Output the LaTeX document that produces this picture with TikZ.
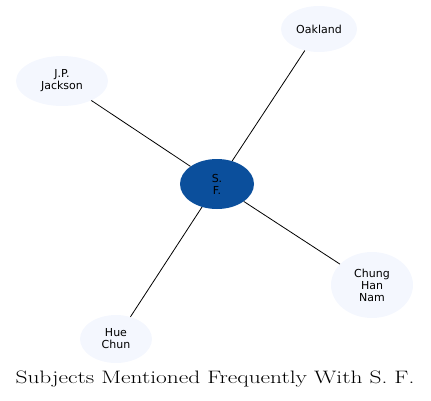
\documentclass[tikz,border=0pt]{standalone}
\usepackage{fontspec}
\newfontfamily\labelfont{DejaVu Sans}
\usetikzlibrary{shapes.geometric}
\definecolor{hubblue}{HTML}{0B4F9C}
\definecolor{paleblue}{HTML}{F4F7FE}
\tikzset{gbox/.style={
    ellipse,
    inner sep=0pt,
    align=center,
    font=\labelfont\fontsize{11}{12}\selectfont
  },
  subjbox/.style={gbox,fill=paleblue},
  hubbox/.style={gbox,fill=hubblue},
  link/.style={draw=black,line width=0.8pt}
}
\begin{document}
\begin{tikzpicture}[x=1pt,y=-1pt]
  \useasboundingbox (0,0) rectangle (431,400);
  \node [hubbox,minimum width=74pt,minimum height=50pt] (sf) at (217,184) {S.\\F.};
  \node [subjbox,minimum width=76pt,minimum height=46pt] (oakland) at (319,29) {Oakland};
  \node [subjbox,minimum width=92pt,minimum height=50pt] (jackson) at (62,81) {J.P.\\Jackson};
  \node [subjbox,minimum width=82pt,minimum height=66pt] (chung) at (372,285) {Chung\\Han\\Nam};
  \node [subjbox,minimum width=72pt,minimum height=48pt] (hue) at (116,339) {Hue\\Chun};
  \draw[link] (sf) -- (oakland);
  \draw[link] (sf) -- (jackson);
  \draw[link] (sf) -- (chung);
  \draw[link] (sf) -- (hue);
  \node [font=\fontsize{18}{20}\selectfont] (title) at (215,379) {\scalebox{1.3}[1]{Subjects Mentioned Frequently With S. F.}};
\end{tikzpicture}
\end{document}
